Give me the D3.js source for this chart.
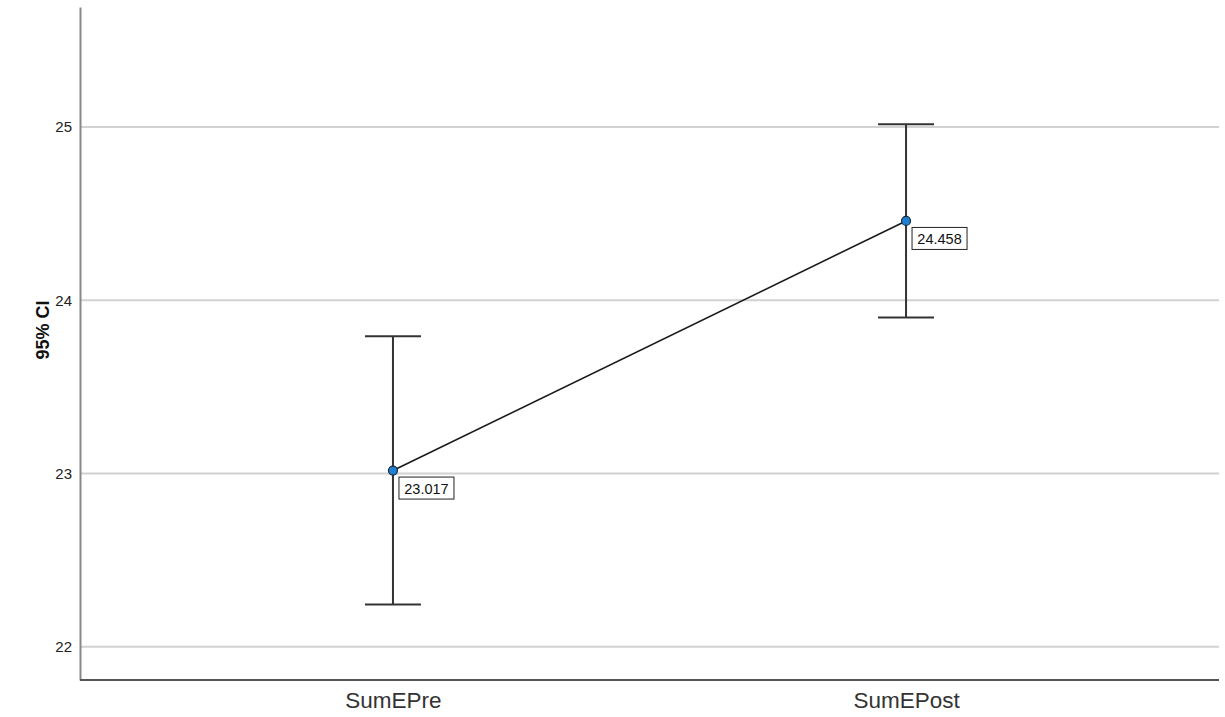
<!DOCTYPE html>
<html>
<head>
<meta charset="utf-8">
<script src="https://cdn.jsdelivr.net/npm/d3@7"></script>
<style>
  body { margin: 0; background: #fff; }
  svg { display: block; font-family: Arial, "Liberation Sans", sans-serif; }
</style>
</head>
<body>
<script>
// chart data
const categories = ["SumEPre", "SumEPost"];
const means = [23.017, 24.458];
const ciLower = [22.244, 23.901];
const ciUpper = [23.793, 25.016];
const yTicks = [22, 23, 24, 25];

const width = 1225, height = 717;
const margin = {top: 7, right: 6, bottom: 37, left: 80};

const svg = d3.select("body").append("svg")
    .attr("width", width)
    .attr("height", height);

const x = d3.scalePoint()
    .domain(categories)
    .range([margin.left, width - margin.right])
    .padding(0.61);

const y = d3.scaleLinear()
    .domain([21.808, 25.693])
    .range([height - margin.bottom, margin.top]);

const data = categories.map((c, i) => ({
    cat: c, mean: means[i], lo: ciLower[i], hi: ciUpper[i]
}));

// gridlines
svg.append("g")
    .selectAll("line")
    .data(yTicks)
    .join("line")
    .attr("x1", margin.left)
    .attr("x2", width - margin.right)
    .attr("y1", d => y(d))
    .attr("y2", d => y(d))
    .attr("stroke", "#d2d2d2")
    .attr("stroke-width", 2);

// y axis
const yAxis = svg.append("g")
    .attr("transform", `translate(${margin.left},0)`)
    .call(d3.axisLeft(y).tickValues(yTicks).tickFormat(d3.format("d")).tickSize(0).tickPadding(8));
yAxis.select(".domain").attr("stroke", "#888").attr("stroke-width", 2);
yAxis.selectAll("text").attr("font-size", 15).attr("fill", "#222")
    .attr("font-family", "Arial, 'Liberation Sans', sans-serif");

// x axis
const xAxis = svg.append("g")
    .attr("transform", `translate(0,${height - margin.bottom})`)
    .call(d3.axisBottom(x).tickSize(0).tickPadding(12));
xAxis.select(".domain").attr("stroke", "#555").attr("stroke-width", 2)
    .attr("d", `M${margin.left},0H${width - margin.right}`);
xAxis.selectAll("text").attr("font-size", 22.5).attr("fill", "#333")
    .attr("dy", "0.71em")
    .attr("font-family", "Arial, 'Liberation Sans', sans-serif");

// y title
svg.append("text")
    .attr("transform", "translate(49,330) rotate(-90)")
    .attr("text-anchor", "middle")
    .attr("font-size", 18)
    .attr("font-weight", "bold")
    .attr("fill", "#111")
    .text("95% CI");

// error bars
const capW = 28;
const eb = svg.append("g").attr("stroke", "#333").attr("stroke-width", 2);
eb.selectAll("line.stem")
    .data(data)
    .join("line")
    .attr("class", "stem")
    .attr("x1", d => x(d.cat)).attr("x2", d => x(d.cat))
    .attr("y1", d => y(d.lo)).attr("y2", d => y(d.hi));
eb.selectAll("line.top")
    .data(data)
    .join("line")
    .attr("class", "top")
    .attr("x1", d => x(d.cat) - capW).attr("x2", d => x(d.cat) + capW)
    .attr("y1", d => y(d.hi)).attr("y2", d => y(d.hi));
eb.selectAll("line.bot")
    .data(data)
    .join("line")
    .attr("class", "bot")
    .attr("x1", d => x(d.cat) - capW).attr("x2", d => x(d.cat) + capW)
    .attr("y1", d => y(d.lo)).attr("y2", d => y(d.lo));

// mean line
svg.append("path")
    .datum(data)
    .attr("fill", "none")
    .attr("stroke", "#1a1a1a")
    .attr("stroke-width", 1.6)
    .attr("d", d3.line().x(d => x(d.cat)).y(d => y(d.mean)));

// points
svg.append("g")
    .selectAll("circle")
    .data(data)
    .join("circle")
    .attr("cx", d => x(d.cat))
    .attr("cy", d => y(d.mean))
    .attr("r", 4.5)
    .attr("fill", "#1f7fd1")
    .attr("stroke", "#1a2a3a")
    .attr("stroke-width", 1.2);

// value labels
const lab = svg.append("g")
    .selectAll("g")
    .data(data)
    .join("g")
    .attr("transform", d => `translate(${x(d.cat) + 6},${y(d.mean) + 6.5})`);
lab.append("rect")
    .attr("width", 55)
    .attr("height", 22)
    .attr("fill", "#fff")
    .attr("stroke", "#222")
    .attr("stroke-width", 1);
lab.append("text")
    .attr("x", 27.5)
    .attr("y", 16.5)
    .attr("text-anchor", "middle")
    .attr("font-size", 14.5)
    .attr("fill", "#111")
    .text(d => d3.format(".3f")(d.mean));
</script>
</body>
</html>
